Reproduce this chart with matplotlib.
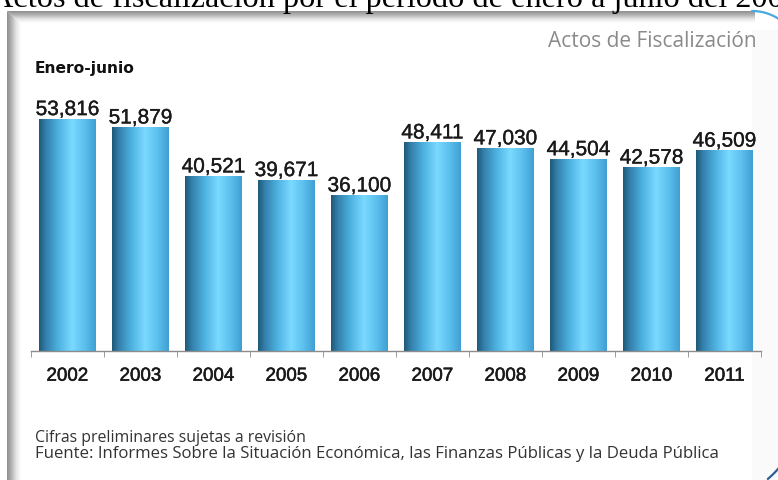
import matplotlib.pyplot as plt
import matplotlib.patheffects as pe
import numpy as np
from matplotlib.colors import LinearSegmentedColormap

years = ["2002", "2003", "2004", "2005", "2006", "2007", "2008", "2009", "2010", "2011"]
actos = [53816, 51879, 40521, 39671, 36100, 48411, 47030, 44504, 42578, 46509]

W, H = 778, 480
fig = plt.figure(figsize=(W / 100, H / 100), dpi=100)

# background layer in pixel coordinates (y grows downward) for the framed panel
bg = fig.add_axes([0, 0, 1, 1])
bg.set_xlim(0, W)
bg.set_ylim(H, 0)
bg.set_autoscale_on(False)
bg.axis("off")

shade = LinearSegmentedColormap.from_list("shade", ["#8e8e8e", "#b5b5b5", "#e6e6e6", "#ffffff"])
bg.add_patch(plt.Rectangle((752, 30), 26, H - 30, facecolor="#fafafa", edgecolor="none", zorder=0.5))
left_img = bg.imshow(np.linspace(0, 1, 64)[None, :], extent=(7, 21, H, 11),
                     cmap=shade, aspect="auto", zorder=1)
left_img.set_clip_path(plt.Polygon([(7, 11), (21, 23), (21, H), (7, H)],
                                   closed=True, transform=bg.transData))
top_img = bg.imshow(np.linspace(0, 1, 64)[:, None], extent=(7, 755, 23, 11),
                    cmap=shade, aspect="auto", zorder=1.1)
top_img.set_clip_path(plt.Polygon([(7, 11), (755, 11), (755, 23), (21, 23)],
                                  closed=True, transform=bg.transData))
bg.set_xlim(0, W)
bg.set_ylim(H, 0)


def corner_arc(cx, cy, r, t0, t1, **kw):
    t = np.radians(np.linspace(t0, t1, 40))
    bg.plot(cx + r * np.cos(t), cy + r * np.sin(t), solid_capstyle="round", **kw)


# rounded corners of the outer frame
corner_arc(752, 60, 49, -90, -35, color="#4aa8e0", lw=1.6, zorder=3)
corner_arc(710, 410, 90, 38, 50, color="#2d5f95", lw=1.6, zorder=3)

bg.text(-10.5, 7, "Actos de fiscalización por el período de enero a junio del 2002-2011",
        family="Liberation Serif", fontsize=23.2, color="#000000", ha="left", va="baseline")

bg.text(757, 47, "Actos de Fiscalización", family="Open Sans",
        fontsize=15, color="#8a8a8a", ha="right", va="baseline")
bg.text(35, 73, "Enero-junio", family="DejaVu Sans", fontweight="bold",
        fontsize=11.2, color="#111111", ha="left", va="baseline")
bg.text(35, 442, "Cifras preliminares sujetas a revisión", family="Open Sans",
        fontsize=11.4, color="#333333", ha="left", va="baseline")
bg.text(35, 458,
        "Fuente: Informes Sobre la Situación Económica, las Finanzas Públicas y la Deuda Pública",
        family="Open Sans", fontsize=12.05, color="#333333", ha="left", va="baseline")

ax = fig.add_axes([31 / W, 129 / H, 730 / W, 258.7 / H])
ax.patch.set_alpha(0)
x = np.arange(len(years))
bars = ax.bar(x, actos, width=0.77, color="none", edgecolor="none")
ax.set_xlim(-0.5, len(years) - 0.5)
ax.set_ylim(0, 60000)

cyl = LinearSegmentedColormap.from_list(
    "cyl", [(0.0, "#1f5877"), (0.12, "#3380ab"), (0.35, "#4fb3e2"),
            (0.58, "#7ad9ff"), (0.8, "#5cc0ee"), (1.0, "#3f9fd2")])
grad = np.linspace(0, 1, 256)[None, :]
heavy = [pe.withStroke(linewidth=0.25, foreground="#1a1a1a")]
for rect in bars:
    x0, h = rect.get_x(), rect.get_height()
    im = ax.imshow(grad, extent=(x0, x0 + rect.get_width(), 0, h),
                   cmap=cyl, aspect="auto", zorder=2)
    im.set_clip_path(rect)
    ax.text(x0 + rect.get_width() / 2, h + 900, f"{h:,.0f}", ha="center", va="baseline",
            family="Liberation Sans", fontsize=15, color="#1a1a1a", path_effects=heavy)
ax.set_xlim(-0.5, len(years) - 0.5)
ax.set_ylim(0, 60000)

for side in ("left", "right", "top"):
    ax.spines[side].set_visible(False)
ax.spines["bottom"].set_color("#8c8c8c")
ax.spines["bottom"].set_linewidth(1)
ax.set_yticks([])
ax.set_xticks(x)
ax.set_xticklabels(years, family="Liberation Sans", fontsize=13.5, color="#1a1a1a")
for lbl in ax.get_xticklabels():
    lbl.set_path_effects([pe.withStroke(linewidth=0.4, foreground="#1a1a1a")])
ax.set_xticks(np.arange(-0.5, len(years)), minor=True)
ax.tick_params(axis="x", which="major", length=0, pad=12)
ax.tick_params(axis="x", which="minor", length=4, color="#8c8c8c", direction="out")

fig.savefig("out.png", dpi=100)
